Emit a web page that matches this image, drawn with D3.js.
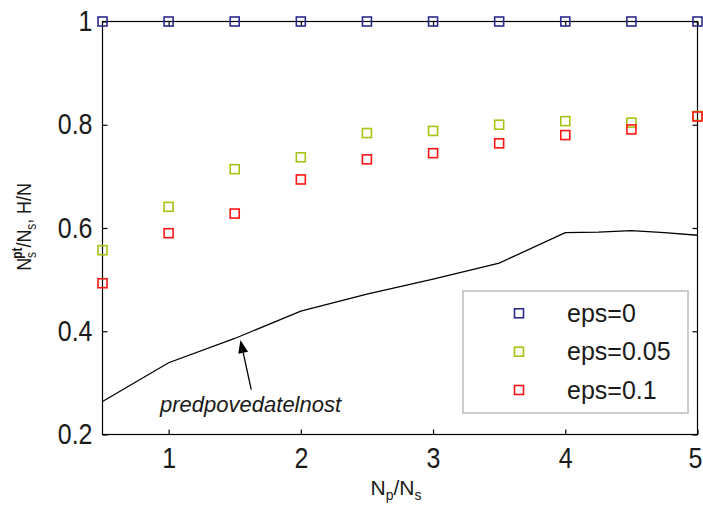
<!DOCTYPE html>
<html><head><meta charset="utf-8">
<script src="https://cdn.jsdelivr.net/npm/d3@7"></script>
<style>body{margin:0;background:#fff} text{font-family:"Liberation Sans",Arial,sans-serif;fill:#1a1a1a}</style>
</head><body><svg id="c" width="703" height="511"></svg>
<script>
const xValues=[0.5,1,1.5,2,2.5,3,3.5,4,4.5,5];
const eps0=[1,1,1,1,1,1,1,1,1,1];
const eps005=[0.557,0.641,0.714,0.737,0.784,0.788,0.800,0.807,0.804,0.817];
const eps01=[0.493,0.590,0.628,0.694,0.733,0.745,0.764,0.780,0.791,0.816];
const predX=[0.5,1,1.5,2,2.5,3,3.5,4,4.25,4.5,4.75,5];
const predY=[0.264,0.339,0.386,0.439,0.472,0.501,0.532,0.591,0.592,0.595,0.591,0.586];
const xTicks=[1,2,3,4,5];
const yTicks=[0.2,0.4,0.6,0.8,1];
const yTickLabels=["0.2","0.4","0.6","0.8","1"];
const seriesNames=["eps=0","eps=0.05","eps=0.1"];
const seriesColors=["#2b2b8c","#a3c412","#ff1414"];
const annotationText="predpovedatelnost";
const annTail=[1.625,0.287], annTip=[1.543,0.383], annTextPos=[1.62,0.244];

const svg=d3.select("#c");
const L=102.5,R=697.5,T=21.5,B=434.5;
const x=d3.scaleLinear().domain([0.5,5]).range([L,R]);
const y=d3.scaleLinear().domain([0.2,1]).range([B,T]);

// axes
const gx=svg.append("g").attr("transform",`translate(0,${B})`)
  .call(d3.axisBottom(x).tickValues(xTicks).tickFormat(d3.format("d")).tickSizeInner(-5).tickSizeOuter(0).tickPadding(11));
const gy=svg.append("g").attr("transform",`translate(${L},0)`)
  .call(d3.axisLeft(y).tickValues(yTicks).tickFormat((d,i)=>yTickLabels[i]).tickSizeInner(-5).tickSizeOuter(0).tickPadding(10));
const gt=svg.append("g").attr("transform",`translate(0,${T})`)
  .call(d3.axisTop(x).tickValues(xTicks).tickFormat("").tickSizeInner(-5).tickSizeOuter(0));
const gr=svg.append("g").attr("transform",`translate(${R},0)`)
  .call(d3.axisRight(y).tickValues(yTicks).tickFormat("").tickSizeInner(-5).tickSizeOuter(0));
[gx,gy,gt,gr].forEach(g=>{
  g.select(".domain").remove();
  g.selectAll(".tick line").attr("stroke","#000").attr("stroke-width",1.2);
  g.selectAll(".tick text").attr("font-size",25).attr("font-family","Liberation Sans, Arial, sans-serif")
    .attr("fill","#1a1a1a").attr("transform","scale(1,1.15)");
});
// keep the last x label inside the window
gx.selectAll(".tick text").filter(d=>d===5).attr("dx",-2.5);
svg.append("rect").attr("x",L).attr("y",T).attr("width",R-L).attr("height",B-T)
  .attr("fill","none").attr("stroke","#000").attr("stroke-width",1.2);

// line
svg.append("path").datum(predX.map((v,i)=>[v,predY[i]]))
  .attr("d",d3.line().x(d=>x(d[0])).y(d=>y(d[1])))
  .attr("fill","none").attr("stroke","#000").attr("stroke-width",1.3);

// markers
const series=[eps0,eps005,eps01];
const ms=9;
series.forEach((vals,si)=>{
  svg.append("g").selectAll("rect").data(vals).join("rect")
    .attr("x",(d,i)=>x(xValues[i])-ms/2).attr("y",d=>y(d)-ms/2)
    .attr("width",ms).attr("height",ms).attr("fill","none")
    .attr("stroke",seriesColors[si]).attr("stroke-width",1.6);
});

// annotation
const tx=x(annTail[0]),ty=y(annTail[1]),px=x(annTip[0]),py=y(annTip[1]);
const ang=Math.atan2(py-ty,px-tx), hl=13, hw=5;
const bx=px-hl*Math.cos(ang), by=py-hl*Math.sin(ang);
svg.append("line").attr("x1",tx).attr("y1",ty).attr("x2",bx).attr("y2",by).attr("stroke","#000").attr("stroke-width",1.3);
svg.append("polygon").attr("points",[[px,py],[bx+hw*Math.sin(ang),by-hw*Math.cos(ang)],[bx-hw*Math.sin(ang),by+hw*Math.cos(ang)]].map(p=>p.join(",")).join(" "))
  .attr("fill","#000");
svg.append("text").attr("x",x(annTextPos[0])).attr("y",y(annTextPos[1])).attr("text-anchor","middle")
  .attr("font-size",22).attr("font-style","italic").text(annotationText);

// legend
const lg=svg.append("g");
lg.append("rect").attr("x",463).attr("y",291).attr("width",225).attr("height",122)
  .attr("fill","#fff").attr("stroke","#bdbdbd").attr("stroke-width",1.5);
const rowsY=[313.3,351.7,390];
seriesNames.forEach((n,i)=>{
  lg.append("rect").attr("x",519-ms/2).attr("y",rowsY[i]-ms/2).attr("width",ms).attr("height",ms)
    .attr("fill","none").attr("stroke",seriesColors[i]).attr("stroke-width",1.6);
  lg.append("text").attr("x",567).attr("y",rowsY[i]+8.5).attr("font-size",25).text(n);
});

// x label
const xl=svg.append("text").attr("x",396).attr("y",495).attr("text-anchor","middle").attr("font-size",21);
xl.append("tspan").text("N");
xl.append("tspan").attr("font-size",14).attr("dy",5).text("p");
xl.append("tspan").attr("dy",-5).text("/N");
xl.append("tspan").attr("font-size",14).attr("dy",5).text("s");

// y label
const yl=svg.append("g").attr("transform","translate(31,227) rotate(-90) scale(0.85,1)")
  .append("text").attr("text-anchor","middle").attr("font-size",21);
yl.append("tspan").text("N");
yl.append("tspan").attr("font-size",14).attr("dy",5).text("s");
yl.append("tspan").attr("font-size",14).attr("dx",-8).attr("dy",-14).attr("font-weight","bold").text("pt");
yl.append("tspan").attr("dy",9).text("/N");
yl.append("tspan").attr("font-size",14).attr("dy",5).text("s");
yl.append("tspan").attr("dy",-5).text(", H/N");
</script></body></html>
